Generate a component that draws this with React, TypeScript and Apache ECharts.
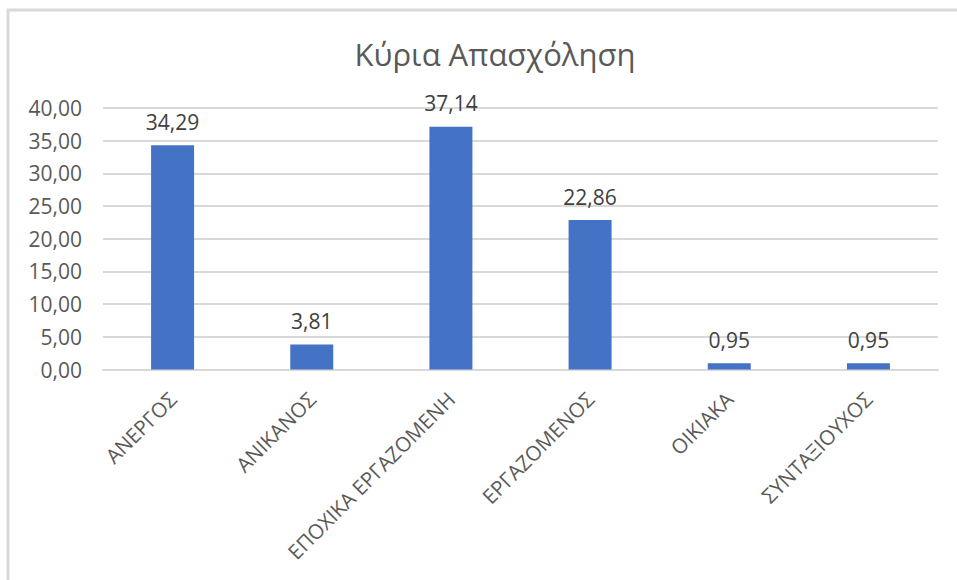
import React, { useEffect, useRef } from "react";
import * as echarts from "echarts";

const titleText = "Κύρια Απασχόληση";
const categories = [
  "ΑΝΕΡΓΟΣ",
  "ΑΝΙΚΑΝΟΣ",
  "ΕΠΟΧΙΚΑ ΕΡΓΑΖΟΜΕΝΗ",
  "ΕΡΓΑΖΟΜΕΝΟΣ",
  "ΟΙΚΙΑΚΑ",
  "ΣΥΝΤΑΞΙΟΥΧΟΣ",
];
const values = [34.29, 3.81, 37.14, 22.86, 0.95, 0.95];
const yMin = 0;
const yMax = 40;
const yStep = 5;

const fmt = (v: number) => v.toFixed(2).replace(".", ",");
const FONT = "'Open Sans', 'Noto Sans', sans-serif";

export default function App() {
  const ref = useRef<HTMLDivElement>(null);
  useEffect(() => {
    if (!ref.current) return;
    const chart = echarts.init(ref.current, null, { renderer: "svg" });
    chart.setOption({
      animation: false,
      backgroundColor: "#ffffff",
      textStyle: { fontFamily: FONT },
      title: {
        text: titleText,
        left: 490,
        top: 33,
        textAlign: "center",
        textStyle: {
          fontFamily: FONT,
          fontSize: 31,
          fontWeight: "normal",
          color: "#595959",
        },
      },
      graphic: [
        {
          type: "line",
          shape: { x1: 7, y1: 10, x2: 957, y2: 10 },
          style: { stroke: "#d9d9d9", lineWidth: 3 },
        },
        {
          type: "line",
          shape: { x1: 8, y1: 10, x2: 8, y2: 580 },
          style: { stroke: "#d9d9d9", lineWidth: 3 },
        },
      ],
      grid: { left: 103, right: 19, top: 108, bottom: 210.5, containLabel: false },
      xAxis: {
        type: "category",
        data: categories,
        axisLine: { show: true, lineStyle: { color: "#d9d9d9", width: 2 } },
        axisTick: { show: false },
        axisLabel: {
          rotate: 45,
          interval: 0,
          margin: 26,
          fontFamily: FONT,
          fontSize: 20.5,
          color: "#595959",
        },
      },
      yAxis: {
        type: "value",
        min: yMin,
        max: yMax,
        interval: yStep,
        axisLine: { show: false },
        axisTick: { show: false },
        splitLine: { lineStyle: { color: "#d9d9d9", width: 2 } },
        axisLabel: {
          formatter: (v: number) => fmt(v),
          margin: 21,
          fontFamily: FONT,
          fontSize: 21,
          color: "#595959",
        },
      },
      series: [
        {
          type: "bar",
          data: values,
          barWidth: 43,
          itemStyle: { color: "#4472C4" },
          label: {
            show: true,
            position: "top",
            distance: 13,
            formatter: (p: any) => fmt(p.value),
            fontFamily: FONT,
            fontSize: 21,
            color: "#404040",
          },
        },
      ],
    });
    return () => chart.dispose();
  }, []);
  return (
    <div
      ref={ref}
      style={{ position: "fixed", left: 0, top: 0, width: 957, height: 580 }}
    />
  );
}
